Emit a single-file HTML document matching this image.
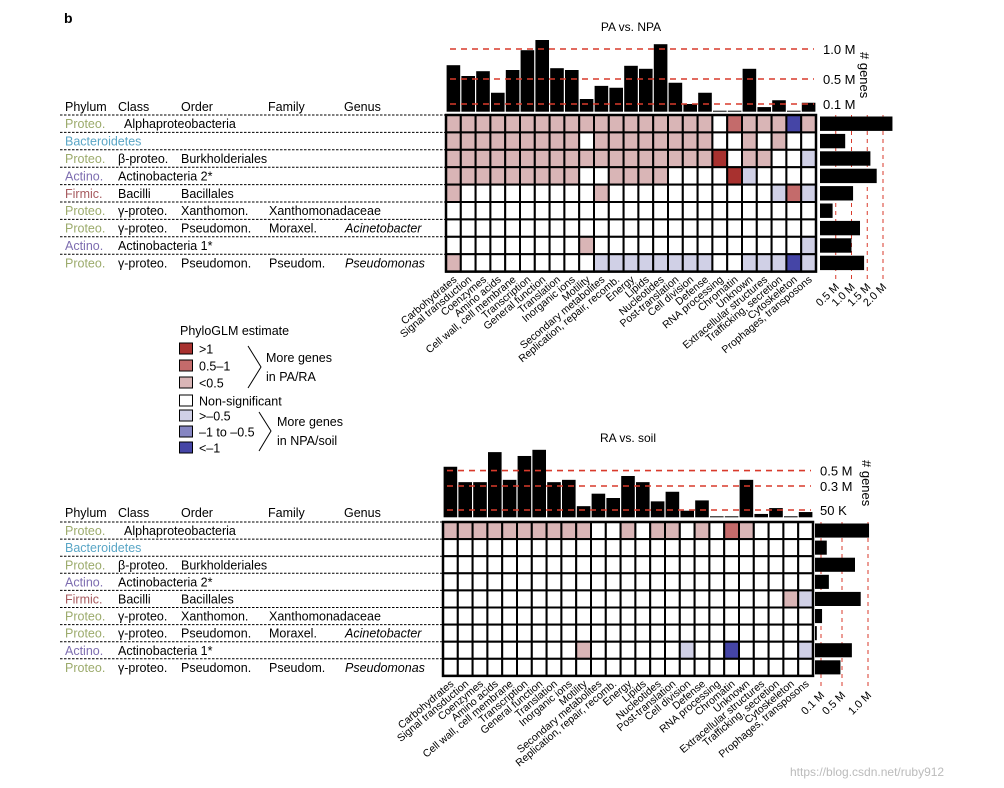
<!DOCTYPE html>
<html><head><meta charset="utf-8"><style>
body{margin:0;background:#fff;}
svg{display:block;font-family:"Liberation Sans",sans-serif;}
</style></head><body>
<svg id="fig" width="1004" height="788" viewBox="0 0 1004 788"></svg>
<script>
const categories=["Carbohydrates","Signal transduction","Coenzymes","Amino acids","Cell wall, cell membrane","Transcription","General function","Translation","Inorganic ions","Motility","Secondary metabolites","Replication, repair, recomb.","Energy","Lipids","Nucleotides","Post-translation","Cell division","Defense","RNA processing","Chromatin","Unknown","Extracellular structures","Trafficking, secretion","Cytoskeleton","Prophages, transposons"];
const rowLabels=[["Proteo.","Alphaproteobacteria","","",""],["Bacteroidetes","","","",""],["Proteo.","β-proteo.","Burkholderiales","",""],["Actino.","Actinobacteria 2*","","",""],["Firmic.","Bacilli","Bacillales","",""],["Proteo.","γ-proteo.","Xanthomon.","Xanthomonadaceae",""],["Proteo.","γ-proteo.","Pseudomon.","Moraxel.","Acinetobacter"],["Actino.","Actinobacteria 1*","","",""],["Proteo.","γ-proteo.","Pseudomon.","Pseudom.","Pseudomonas"]];
const phylumColors={"Proteo.":"#9cab6c","Bacteroidetes":"#5aa6c6","Actino.":"#7d6db0","Firmic.":"#a65a5e"};
// heatmap codes: 0 non-sig, 1 <0.5, 2 0.5-1, 3 >1, -1 >-0.5, -2 -1 to -0.5, -3 <-1
const heatPA=[
[1,1,1,1,1,1,1,1,1,1,1,1,1,1,1,1,1,1,0,2,1,1,1,-3,1],
[1,1,1,1,1,1,1,1,1,0,1,1,1,1,1,1,1,1,0,0,1,0,1,0,0],
[1,1,1,1,1,1,1,1,1,1,1,1,1,1,1,1,1,1,3,0,1,1,0,0,-1],
[1,1,1,1,1,1,1,1,1,0,0,1,1,1,1,0,0,0,0,3,-1,0,0,0,0],
[1,0,0,0,0,0,0,0,0,0,1,0,0,0,0,0,0,0,0,0,0,0,-1,2,-1],
[0,0,0,0,0,0,0,0,0,0,0,0,0,0,0,0,0,0,0,0,0,0,0,0,0],
[0,0,0,0,0,0,0,0,0,0,0,0,0,0,0,0,0,0,0,0,0,0,0,0,0],
[0,0,0,0,0,0,0,0,0,1,0,0,0,0,0,0,0,0,0,0,0,0,0,0,-1],
[1,0,0,0,0,0,0,0,0,0,-1,-1,-1,-1,-1,-1,-1,-1,0,0,-1,-1,-1,-3,-1]];
const heatRA=[
[1,1,1,1,1,1,1,1,1,1,0,0,1,0,1,1,0,1,0,2,1,0,0,0,0],
[0,0,0,0,0,0,0,0,0,0,0,0,0,0,0,0,0,0,0,0,0,0,0,0,0],
[0,0,0,0,0,0,0,0,0,0,0,0,0,0,0,0,0,0,0,0,0,0,0,0,0],
[0,0,0,0,0,0,0,0,0,0,0,0,0,0,0,0,0,0,0,0,0,0,0,0,0],
[0,0,0,0,0,0,0,0,0,0,0,0,0,0,0,0,0,0,0,0,0,0,0,1,-1],
[0,0,0,0,0,0,0,0,0,0,0,0,0,0,0,0,0,0,0,0,0,0,0,0,0],
[0,0,0,0,0,0,0,0,0,0,0,0,0,0,0,0,0,0,0,0,0,0,0,0,0],
[0,0,0,0,0,0,0,0,0,1,0,0,0,0,0,0,-1,0,0,-3,0,0,0,0,-1],
[0,0,0,0,0,0,0,0,0,0,0,0,0,0,0,0,0,0,0,0,0,0,0,0,0]];
const topBarsPA=[0.73,0.55,0.63,0.28,0.65,0.98,1.15,0.68,0.65,0.18,0.39,0.36,0.72,0.67,1.08,0.44,0.10,0.28,0.01,0.01,0.67,0.06,0.16,0.01,0.12];
const sideBarsPA=[2.3,0.8,1.6,1.8,1.05,0.4,1.27,1.0,1.4];
const topBarsRA=[0.55,0.35,0.35,0.74,0.38,0.69,0.77,0.35,0.38,0.09,0.22,0.175,0.43,0.35,0.14,0.24,0.045,0.15,0.005,0.005,0.38,0.023,0.07,0.005,0.036];
const sideBarsRA=[1.02,0.21,0.75,0.25,0.86,0.12,0.03,0.69,0.47];
const topTicksPA=[0.1,0.5,1.0], topTickLabelsPA=["0.1 M","0.5 M","1.0 M"];
const sideTicksPA=[0.5,1.0,1.5,2.0], sideTickLabelsPA=["0.5 M","1.0 M","1.5 M","2.0 M"];
const topTicksRA=[0.05,0.3,0.5], topTickLabelsRA=["50 K","0.3 M","0.5 M"];
const sideTicksRA=[0.1,0.5,1.0], sideTickLabelsRA=["0.1 M","0.5 M","1.0 M"];
const legendCodes=[3,2,1,0,-1,-2,-3], legendLabels=[">1","0.5–1","<0.5","Non-significant",">–0.5","–1 to –0.5","<–1"];

const colorFor={3:"#a8312f",2:"#c46b6b",1:"#d9b5b6",0:"#ffffff","-1":"#d0d0e6","-2":"#8585c2","-3":"#4545a6"};
const NS="http://www.w3.org/2000/svg";
const svg=document.getElementById('fig');
function mk(tag,attrs,parent){const e=document.createElementNS(NS,tag);for(const k in attrs)e.setAttribute(k,attrs[k]);(parent||svg).appendChild(e);return e;}
function txt(s,x,y,attrs,parent){const e=mk('text',Object.assign({x:x,y:y},attrs||{}),parent);e.textContent=s;return e;}
function piece(dom,rng){return v=>{for(let i=1;i<dom.length;i++){if(v<=dom[i]||i==dom.length-1){return rng[i-1]+(v-dom[i-1])/(dom[i]-dom[i-1])*(rng[i]-rng[i-1]);}}};}

function panel(cfg){
  const g=mk('g',{});
  
  
  const {hx,hy,cw,rh}=cfg;
  const W=cw*categories.length, H=rh*rowLabels.length;
  const t=txt(cfg.title,hx+W/2,cfg.titleY,{'font-size':12,'text-anchor':'middle'},g);
  
  
  // top bars
  const ys=piece(cfg.topDom,cfg.topRng);
  cfg.topBars.forEach((v,i)=>{
    const h=Math.max(ys(v),1);
    const r=mk('rect',{x:hx+i*cw+0.6,y:cfg.base-h,width:cw-1.2,height:h,fill:'#000'},g);
    
    
  });
  cfg.topTicks.forEach((v,i)=>{
    const y=cfg.base-ys(v);
    const l=mk('line',{x1:hx+4,x2:hx+W-2,y1:y,y2:y,stroke:'#d93a2b','stroke-width':1.6,'stroke-dasharray':'6,5'},g);
    
    
    const tl=txt(cfg.topTickLabels[i],hx+W+7,y+5,{'font-size':13},g);
    
    
  });
  const gl=txt('# genes',0,0,{'font-size':13,transform:`translate(${cfg.genesX},${cfg.genesY}) rotate(90)`},g);
  
  
  // heatmap
  cfg.heat.forEach((row,r)=>row.forEach((c,k)=>{
    const rc=mk('rect',{x:hx+k*cw,y:hy+r*rh,width:cw,height:rh,fill:colorFor[c],stroke:'#000','stroke-width':2},g);
    
    
  }));
  mk('rect',{x:hx,y:hy,width:W,height:H,fill:'none',stroke:'#000','stroke-width':2.5},g);
  // side bars
  const xs=piece(cfg.sideDom,cfg.sideRng);
  cfg.sideTicks.forEach((v,i)=>{
    const x=cfg.sx+xs(v);
    const l=mk('line',{x1:x,x2:x,y1:hy,y2:hy+H+cfg.tickExt,stroke:'#d93a2b','stroke-width':1,'stroke-dasharray':'4,4'},g);
    
    
    const tl=txt(cfg.sideTickLabels[i],0,0,{'font-size':11,'text-anchor':'end',transform:`translate(${x+4},${hy+H+cfg.tickExt+6}) rotate(-45)`},g);
    
    
  });
  cfg.sideBars.forEach((v,r)=>{
    const b=mk('rect',{x:cfg.sx,y:hy+r*rh+1.5,width:xs(v),height:rh-3,fill:'#000'},g);
    
    
  });
  // column labels
  categories.forEach((c,k)=>{
    const x=hx+k*cw+cw/2+4, y=hy+H+9;
    const e=txt(c,0,0,{'font-size':10.5,'text-anchor':'end',transform:`translate(${x},${y}) rotate(-40)`},g);
    
    
  });
  // row labels
  const cols=[65,118,181,268,344];
  ['Phylum','Class','Order','Family','Genus'].forEach((h,i)=>{
    const e=txt(h,cols[i],cfg.headY,{'font-size':12.5},g);
    
    
  });
  for(let r=0;r<=rowLabels.length-1;r++){
    mk('line',{x1:60,x2:hx,y1:hy+r*rh,y2:hy+r*rh,stroke:'#000','stroke-width':1,'stroke-dasharray':'2.5,1.5'},g);
  }
  rowLabels.forEach((lab,r)=>{
    const y=hy+r*rh+rh/2+4.5;
    const ph=txt(lab[0],65,y,{'font-size':12.5,fill:phylumColors[lab[0]]},g);
    
    
    const xs2=[null,(lab[1]==='Alphaproteobacteria')?124:118,181,269,345];
    for(let i=1;i<5;i++) if(lab[i]){
      const e=txt(lab[i],xs2[i],y,{'font-size':12.5,'font-style':i==4?'italic':'normal'},g);
      
      
    }
  });
}
const b=txt('b',64,23,{'font-size':14,'font-weight':'bold'});



panel({name:'pa-vs-npa-panel',title:'PA vs. NPA',titleY:31,hx:446,hy:115,cw:14.8,rh:17.4,base:111.7,
  topBars:topBarsPA,topDom:[0,0.1,0.5,1.0],topRng:[0,7.7,32.7,62.7],topTicks:topTicksPA,topTickLabels:topTickLabelsPA,
  genesX:860,genesY:52,heat:heatPA,sx:820,sideBars:sideBarsPA,sideDom:[0,2],sideRng:[0,63],sideTicks:sideTicksPA,sideTickLabels:sideTickLabelsPA,tickExt:10,headY:111});
panel({name:'ra-vs-soil-panel',title:'RA vs. soil',titleY:442,hx:443,hy:522,cw:14.8,rh:17.1,base:517.3,
  topBars:topBarsRA,topDom:[0,0.05,0.3,0.5],topRng:[0,7.3,31.3,46.7],topTicks:topTicksRA,topTickLabels:topTickLabelsRA,
  genesX:862,genesY:460,heat:heatRA,sx:815,sideBars:sideBarsRA,sideDom:[0,0.1,0.5,1.0],sideRng:[0,6,27,53],sideTicks:sideTicksRA,sideTickLabels:sideTickLabelsRA,tickExt:14,headY:517});

// legend
const lg=mk('g',{});


txt('PhyloGLM estimate',180,335,{'font-size':12.5},lg);
const ly=[343,360,377,395,410,426,442];
legendCodes.forEach((c,i)=>{
  const r=mk('rect',{x:179.5,y:ly[i],width:13,height:11,fill:colorFor[c],stroke:'#000','stroke-width':1},lg);
  
  
  const t=txt(legendLabels[i],199,ly[i]+10.5,{'font-size':12.5},lg);
  
  
});
mk('polyline',{points:'248,346 261,367 248,388',fill:'none',stroke:'#000','stroke-width':1},lg);
mk('polyline',{points:'259,412 271,431 259,451',fill:'none',stroke:'#000','stroke-width':1},lg);
txt('More genes',266,362,{'font-size':12.5},lg);
txt('in PA/RA',266,381,{'font-size':12.5},lg);
txt('More genes',277,426,{'font-size':12.5},lg);
txt('in NPA/soil',277,445,{'font-size':12.5},lg);
const wm=txt('https://blog.csdn.net/ruby912',790,776,{'font-size':12,fill:'#bbbbbb'});


</script>
</body></html>
